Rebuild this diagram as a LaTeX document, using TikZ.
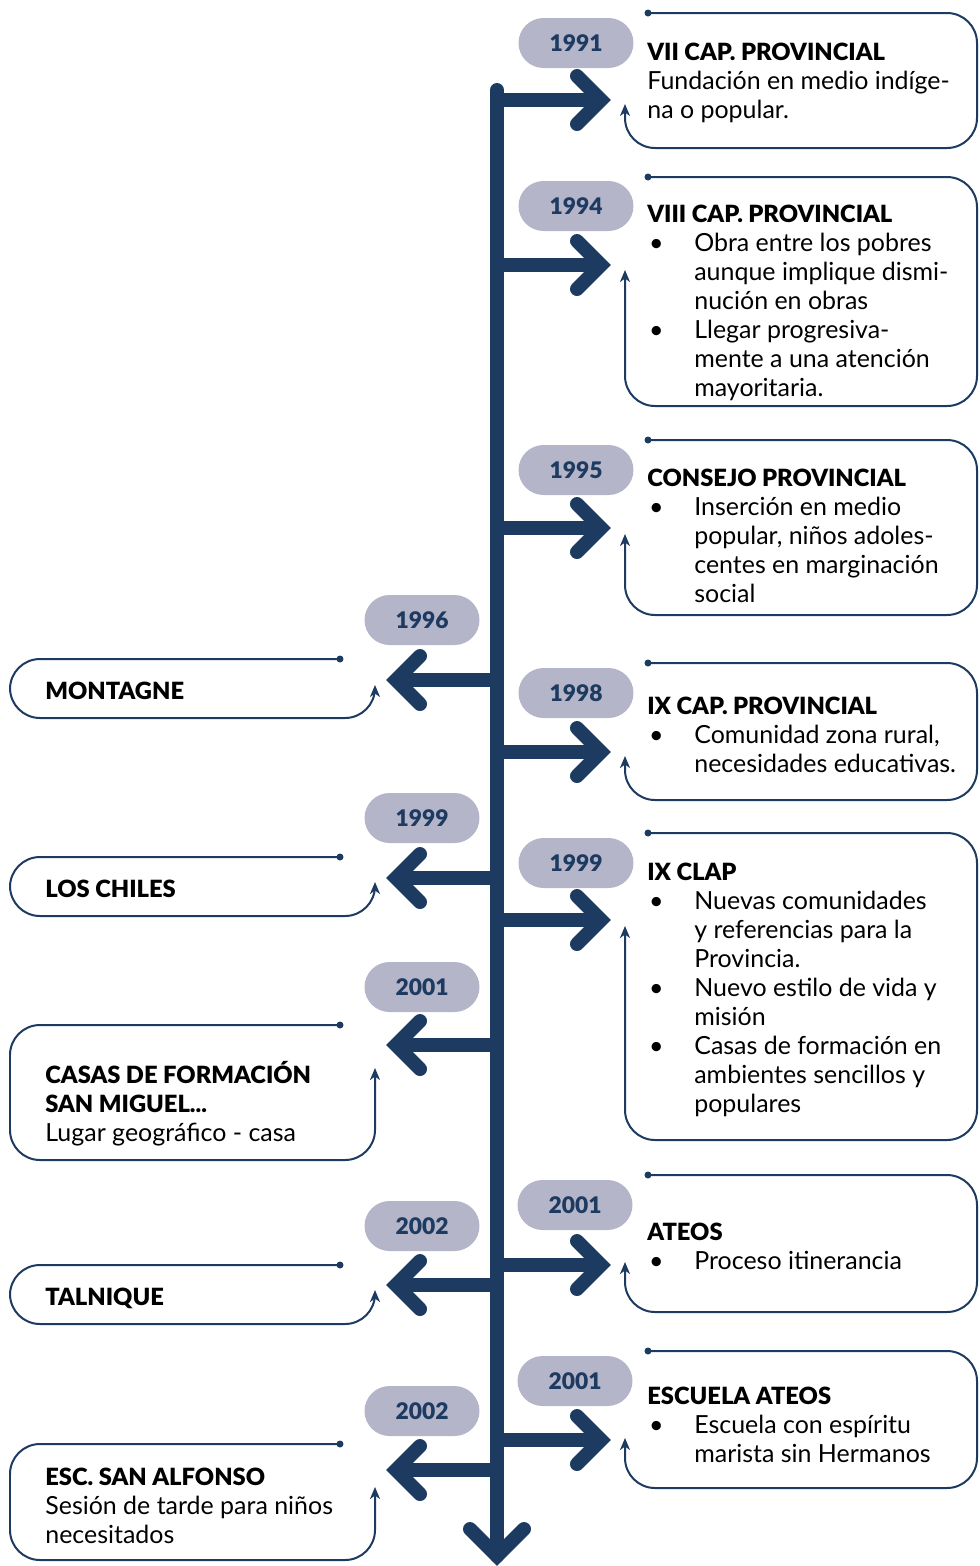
\documentclass[tikz,border=0pt]{standalone}
\usepackage{fontspec}
\setmainfont{Lato}[BoldFont={Lato Black}]
\usepackage{tikz}
\usetikzlibrary{arrows.meta}
\definecolor{navy}{HTML}{1D3A61}
\definecolor{pillgray}{HTML}{B5B5C9}
\newcommand{\hd}[1]{{\fontsize{13.5}{16.5}\selectfont\bfseries #1}}
\newcommand{\itm}{\makebox[0.94cm][l]{\hspace{1pt}\textbullet}}
\newcommand{\cont}{\hspace*{0.94cm}}

\begin{document}
\begin{tikzpicture}[x=0.02cm,y=-0.02cm,
    spine/.style={draw=navy,line width=0.28cm,line cap=round},
    shaft/.style={draw=navy,line width=0.28cm},
    chev/.style={draw=navy,line width=0.28cm,line cap=round,line join=miter},
    frame/.style={draw=navy,line width=0.04cm,rounded corners=0.6cm,-{Stealth[length=0.24cm,width=0.2cm,inset=0.07cm]}},
    year/.style={fill=pillgray,rounded corners=0.5cm,minimum width=2.3cm,minimum height=1cm,inner sep=0pt,text=navy,font=\fontsize{13}{15}\selectfont\bfseries},
    txt/.style={anchor=north west,inner sep=0pt,align=left,font=\fontsize{14.2}{16.5}\selectfont}]
        \useasboundingbox (0,0) rectangle (980,1566);

        % Spine
        \coordinate (top) at (497,90);
        \coordinate (bot) at (497,1556);
        \draw[spine] (top) -- (bot);
        \draw[chev] (bot) ++(-27,-27) -- (bot) -- ++(27,-27);

        % Arrows to the right
        \foreach \n/\y in {a/100,b/265,c/528,d/752,e/920,f/1265,g/1440} {
            \coordinate (s\n) at (497,\y);
            \coordinate (t\n) at (601,\y);
            \draw[shaft] (s\n) -- (t\n);
            \draw[chev] (t\n) ++(-24,-24) -- (t\n) -- ++(-24,24);
        }

        % Arrows to the left
        \foreach \n/\y in {h/680,i/878,j/1045,k/1285,l/1470} {
            \coordinate (s\n) at (497,\y);
            \coordinate (t\n) at (396,\y);
            \draw[shaft] (s\n) -- (t\n);
            \draw[chev] (t\n) ++(24,-24) -- (t\n) -- ++(24,24);
        }

        % Frames on the right
        \foreach \n/\T/\B/\Y in {a/13/148/104,b/177/406/270,c/440/615/534,d/663/800/756,e/833/1140/926,f/1175/1312/1262,g/1351/1488/1438} {
            \coordinate (d\n) at (648,\T);
            \fill[navy] (d\n) circle[radius=0.07cm];
            \draw[frame] (d\n) -- (977,\T) -- (977,\B) -- (625,\B) -- (625,\Y);
        }

        % Frames on the left
        \foreach \n/\T/\B/\Y in {h/659/718/685,i/857/916/882,j/1025/1160/1068,k/1265/1324/1290,l/1444/1560/1487} {
            \coordinate (d\n) at (340,\T);
            \fill[navy] (d\n) circle[radius=0.07cm];
            \draw[frame] (d\n) -- (10,\T) -- (10,\B) -- (375,\B) -- (375,\Y);
        }

        % Years
        \node[year] (y91) at (576,43) {1991};
        \node[year] (y94) at (576,206) {1994};
        \node[year] (y95) at (576,470) {1995};
        \node[year] (y98) at (576,693) {1998};
        \node[year] (y99r) at (576,863) {1999};
        \node[year] (y01r) at (575,1205) {2001};
        \node[year] (y01s) at (575,1381) {2001};
        \node[year] (y96) at (422,620) {1996};
        \node[year] (y99l) at (422,818) {1999};
        \node[year] (y01l) at (422,987) {2001};
        \node[year] (y02l) at (422,1226) {2002};
        \node[year] (y02m) at (422,1411) {2002};

        % Texts on the right
        \node[txt] (cap7) at (647,40) {\strut\hd{VII CAP. PROVINCIAL}\\Fundación en medio indíge-\\na o popular.};
        \node[txt] (cap8) at (647,202) {\strut\hd{VIII CAP. PROVINCIAL}\\\itm Obra entre los pobres\\\cont aunque implique dismi-\\\cont nución en obras\\\itm Llegar progresiva-\\\cont mente a una atención\\\cont mayoritaria.};
        \node[txt] (consejo) at (647,466) {\strut\hd{CONSEJO PROVINCIAL}\\\itm Inserción en medio\\\cont popular, niños adoles-\\\cont centes en marginación\\\cont social};
        \node[txt] (cap9) at (647,694) {\strut\hd{IX CAP. PROVINCIAL}\\\itm Comunidad zona rural,\\\cont necesidades educativas.};
        \node[txt] (clap) at (647,860) {\strut\hd{IX CLAP}\\\itm Nuevas comunidades\\\cont y referencias para la\\\cont Provincia.\\\itm Nuevo estilo de vida y\\\cont misión\\\itm Casas de formación en\\\cont ambientes sencillos y\\\cont populares};
        \node[txt] (ateos) at (647,1220) {\strut\hd{ATEOS}\\\itm Proceso itinerancia};
        \node[txt] (escuela) at (647,1384) {\strut\hd{ESCUELA ATEOS}\\\itm Escuela con espíritu\\\cont marista sin Hermanos};

        % Texts on the left
        \node[txt] (montagne) at (45,679) {\strut\hd{MONTAGNE}};
        \node[txt] (chiles) at (45,877) {\strut\hd{LOS CHILES}};
        \node[txt] (casas) at (45,1061) {\strut\hd{CASAS DE FORMACIÓN}\\\hd{SAN MIGUEL...}\\Lugar geográfico - casa};
        \node[txt] (talnique) at (45,1285) {\strut\hd{TALNIQUE}};
        \node[txt] (alfonso) at (45,1465) {\strut\hd{ESC. SAN ALFONSO}\\Sesión de tarde para niños\\necesitados};
\end{tikzpicture}
\end{document}
